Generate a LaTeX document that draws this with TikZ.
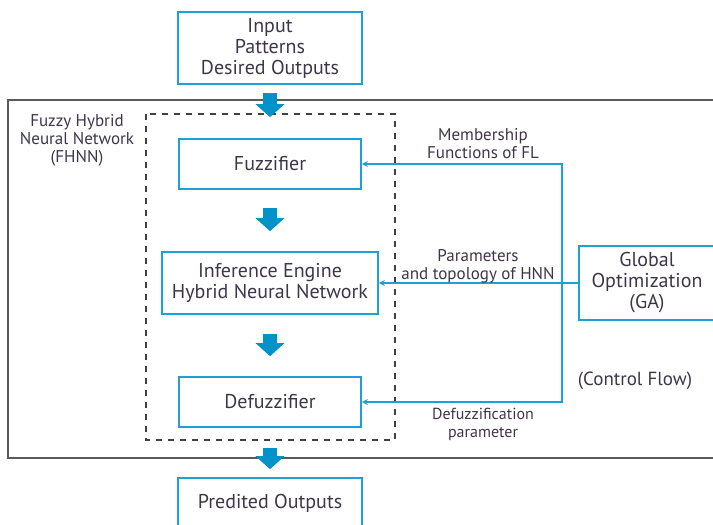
\documentclass[tikz,border=0pt]{standalone}
\usepackage{fontspec}
\setmainfont{PT Sans}
\usetikzlibrary{arrows.meta, calc}
\definecolor{boxblue}{RGB}{28,160,214}
\definecolor{flowblue}{RGB}{0,146,200}
\definecolor{txtgray}{RGB}{62,54,72}

\begin{document}
\begin{tikzpicture}[x=0.5pt, y=-0.5pt, font=\fontsize{10}{10.5}\selectfont, text=txtgray,
    block/.style={draw=boxblue, line width=0.8pt, align=center, inner sep=0pt},
    bigarrow/.style={flowblue, line width=7pt, -{Triangle[length=6.5pt, width=14pt]}},
    ctrl/.style={boxblue, line width=0.8pt},
    note/.style={align=center, font=\fontsize{8.5}{9}\selectfont}]
    \useasboundingbox (0,0) rectangle (713,525);
    \clip (0,0) rectangle (713,525);

    \draw[black!65, line width=1pt] (8,100) rectangle (740,458);
    \draw[black!75, dashed, line width=0.8pt] (146,114) rectangle (395,440);

    \node[block, minimum width=92pt, minimum height=36pt] (input) at (270,48) {Input\\Patterns\\Desired Outputs};
    \node[block, minimum width=91pt, minimum height=25pt] (fuzz) at (270,164) {Fuzzifier};
    \node[block, minimum width=108pt, minimum height=31pt] (infer) at (270,283) {Inference Engine\\Hybrid Neural Network};
    \node[block, minimum width=91pt, minimum height=25pt] (defuzz) at (270,402) {Defuzzifier};
    \node[block, minimum width=92pt, minimum height=25pt] (output) at (270,503) {Predited Outputs};
    \node[block, minimum width=68pt, minimum height=37pt] (ga) at (647,283) {Global\\Optimization\\(GA)};
    \coordinate (bus) at (562,283);

    \draw[bigarrow, shorten <=4pt, shorten >=10.5pt] (input) -- (fuzz);
    \draw[bigarrow, shorten <=9pt, shorten >=10pt] (fuzz) -- (infer);
    \draw[bigarrow, shorten <=9.5pt, shorten >=10pt] (infer) -- (defuzz);
    \draw[bigarrow, shorten <=10pt, shorten >=4pt] (defuzz) -- (output);

    \draw[ctrl, {Stealth[length=3pt, width=3pt]}-{Stealth[length=3pt, width=3pt]}]
        (fuzz.east) -- (fuzz.east -| bus) -- (defuzz.east -| bus) -- (defuzz.east);
    \draw[ctrl, -{Stealth[length=3pt, width=3pt]}] (ga.west) -- (infer.east);

    \node[note] (memb) at (483,144) {Membership\\Functions of FL};
    \node[note] (param) at (478,266) {Parameters\\and topology of HNN};
    \node[note, font=\fontsize{8}{9}\selectfont] (dparam) at (483,424) {Defuzzification\\parameter};
    \node[font=\fontsize{9.5}{10}\selectfont] (ctrlflow) at (635,381) {(Control Flow)};
    \node[note] (fhnn) at (77,140) {Fuzzy Hybrid\\Neural Network\\(FHNN)};
\end{tikzpicture}
\end{document}
